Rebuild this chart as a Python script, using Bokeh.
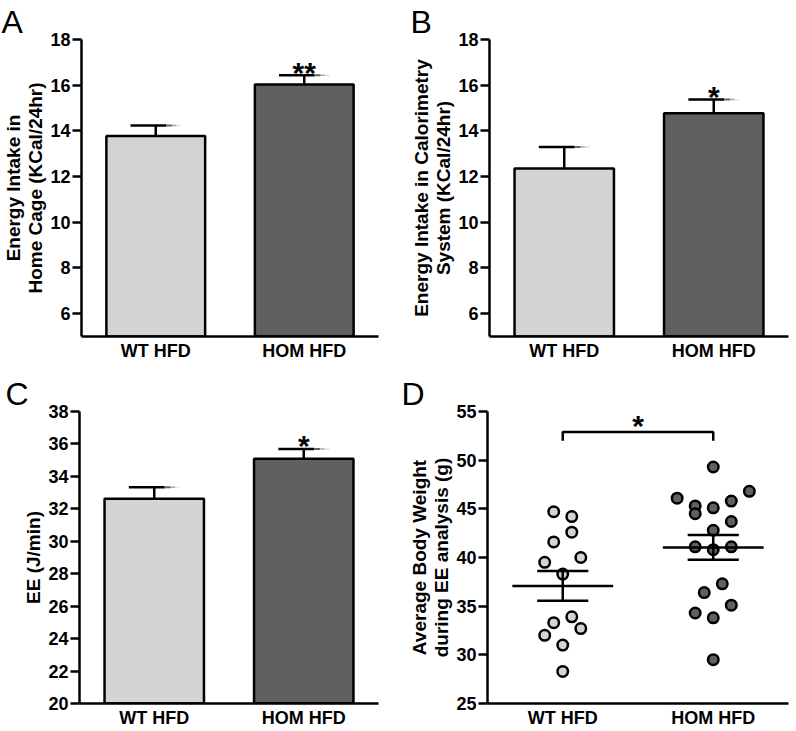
from bokeh.plotting import figure
from bokeh.layouts import row, column
from bokeh.models import Range1d, FixedTicker
from bokeh.embed import file_html
from bokeh.resources import INLINE
from bokeh.core.properties import value

# ---------------- data ----------------
groups = ["WT HFD", "HOM HFD"]
group_pos = [1, 2]

home_cage_mean = [13.78, 16.03]
home_cage_sem = [0.46, 0.40]
home_cage_sig = ["", "**"]

calorimetry_mean = [12.35, 14.77]
calorimetry_sem = [0.95, 0.60]
calorimetry_sig = ["", "*"]

ee_mean = [32.62, 35.08]
ee_sem = [0.71, 0.61]
ee_sig = ["", "*"]

wt_weight = [44.7, 44.2, 42.6, 41.6, 40.0, 39.5, 38.3, 33.9, 33.3, 32.7, 32.0, 31.0, 28.3]
wt_jitter = [-0.06, 0.06, 0.06, -0.06, 0.12, -0.12, 0.0, 0.06, -0.06, 0.12, -0.12, 0.0, 0.0]
hom_weight = [49.3, 46.8, 46.1, 45.8, 45.3, 45.1, 44.5, 43.7, 42.8, 41.1, 40.8, 41.1,
              37.3, 36.4, 35.1, 34.3, 33.8, 29.5]
hom_jitter = [0.0, 0.24, -0.24, 0.12, -0.12, 0.0, -0.12, 0.12, 0.0, -0.12, 0.0, 0.12,
              0.06, -0.06, 0.12, -0.12, 0.0, 0.0]
weight_mean = [37.08, 41.03]
weight_sem = [1.53, 1.27]
weight_sig = "*"
bracket_y = 52.9
bracket_drop = 0.9

yticks_ab = [6, 8, 10, 12, 14, 16, 18]
yticks_c = [20, 22, 24, 26, 28, 30, 32, 34, 36, 38]
yticks_d = [25, 30, 35, 40, 45, 50, 55]

# ---------------- style ----------------
FONT = "Liberation Sans"
LIGHT = "#d4d4d4"
DARK = "#606060"
colors = [LIGHT, DARK]
LW = 2.5


def make_panel(width, height, ymin, ymax, yticks, ylabel, bl, br, bt, bb,
               letter, loff):
    p = figure(width=width, height=height,
               x_range=Range1d(0.5, 2.5), y_range=Range1d(ymin, ymax),
               output_backend="svg", toolbar_location=None,
               min_border_left=bl, min_border_right=br,
               min_border_top=bt, min_border_bottom=bb)
    p.outline_line_color = None
    p.background_fill_color = "white"
    p.border_fill_color = "white"
    p.grid.visible = False

    p.title.text = letter
    p.title.align = "left"
    p.title.offset = loff
    p.title.standoff = 0
    p.title.text_font = FONT
    p.title.text_font_size = "32px"
    p.title.text_font_style = "normal"
    p.title.text_color = "black"

    xa = p.xaxis[0]
    xa.ticker = FixedTicker(ticks=group_pos)
    xa.major_label_overrides = {pos: g for pos, g in zip(group_pos, groups)}
    xa.major_tick_line_color = None
    xa.major_tick_out = 0
    xa.major_tick_in = 0
    xa.minor_tick_line_color = None
    xa.minor_tick_out = 0
    xa.minor_tick_in = 0
    xa.axis_label_standoff = 0
    xa.axis_line_width = LW
    xa.axis_line_color = "black"
    xa.major_label_text_font = FONT
    xa.major_label_text_font_style = "bold"
    xa.major_label_text_font_size = "18px"
    xa.major_label_text_color = "black"
    xa.major_label_standoff = 4

    ya = p.yaxis[0]
    ya.ticker = FixedTicker(ticks=yticks)
    ya.axis_line_width = LW
    ya.axis_line_color = "black"
    ya.major_tick_line_width = LW
    ya.major_tick_line_color = "black"
    ya.major_tick_out = 9
    ya.major_tick_in = 0
    ya.minor_tick_line_color = None
    ya.minor_tick_out = 0
    ya.minor_tick_in = 0
    ya.major_label_standoff = 2
    ya.major_label_text_font = FONT
    ya.major_label_text_font_style = "bold"
    ya.major_label_text_font_size = "18px"
    ya.major_label_text_color = "black"
    ya.axis_label = ylabel
    ya.axis_label_text_font = FONT
    ya.axis_label_text_font_style = "bold"
    ya.axis_label_text_font_size = "19px"
    ya.axis_label_text_color = "black"
    ya.axis_label_standoff = 1
    ya.axis_label_text_line_height = 1.05
    return p


def draw_cap(p, xs, ys):
    parts = [(-0.17, 0.07, "black", 2.5), (0.07, 0.11, "#666666", 2.0),
             (0.11, 0.14, "#aaaaaa", 1.5), (0.14, 0.17, "#dddddd", 1.2)]
    for a, b, c, w in parts:
        p.segment(x0=[x + a for x in xs], y0=ys, x1=[x + b for x in xs], y1=ys,
                  line_color=c, line_width=w)


def bar_panel(p, means, sems, sig):
    tops = [m + s for m, s in zip(means, sems)]
    p.vbar(x=group_pos, top=means, bottom=p.y_range.start, width=0.665,
           fill_color=colors, line_color="black", line_width=LW)
    p.segment(x0=group_pos, y0=means, x1=group_pos, y1=tops,
              line_color="black", line_width=LW)
    draw_cap(p, group_pos, tops)
    p.text(x=group_pos, y=tops, text=sig, text_font=value(FONT),
           text_font_style="bold", text_font_size="30px", text_align="center",
           text_baseline="alphabetic", y_offset=-3, text_color="black")


pA = make_panel(398, 363, 5, 18, yticks_ab,
                "Energy Intake in\nHome Cage (KCal/24hr)",
                78, 20, 39, 24, "A", -80)
bar_panel(pA, home_cage_mean, home_cage_sem, home_cage_sig)

pB = make_panel(398, 363, 5, 18, yticks_ab,
                "Energy Intake in Calorimetry\nSystem (KCal/24hr)",
                91, 8, 36, 24, "B", -79)
bar_panel(pB, calorimetry_mean, calorimetry_sem, calorimetry_sig)

pC = make_panel(398, 367, 20, 38, yticks_c, "EE (J/min)",
                79, 20, 48, 22, "C", -74)
bar_panel(pC, ee_mean, ee_sem, ee_sig)

pD = make_panel(398, 367, 25, 55, yticks_d,
                "Average Body Weight\nduring EE analysis (g)",
                89, 8, 47, 22, "D", -86)
pD.scatter(x=[group_pos[0] + j for j in wt_jitter], y=wt_weight, size=10.5,
           fill_color=LIGHT, line_color="black", line_width=LW)
pD.scatter(x=[group_pos[1] + j for j in hom_jitter], y=hom_weight, size=10.5,
           fill_color=DARK, line_color="black", line_width=LW)
pD.segment(x0=[x - 0.335 for x in group_pos], y0=weight_mean,
           x1=[x + 0.335 for x in group_pos], y1=weight_mean,
           line_color="black", line_width=LW)
lo = [m - s for m, s in zip(weight_mean, weight_sem)]
hi = [m + s for m, s in zip(weight_mean, weight_sem)]
pD.segment(x0=group_pos, y0=lo, x1=group_pos, y1=hi, line_color="black", line_width=LW)
for ys in (lo, hi):
    pD.segment(x0=[x - 0.17 for x in group_pos], y0=ys,
               x1=[x + 0.17 for x in group_pos], y1=ys,
               line_color="black", line_width=LW)
pD.line(x=[group_pos[0], group_pos[0], group_pos[1], group_pos[1]],
        y=[bracket_y - bracket_drop, bracket_y, bracket_y, bracket_y - bracket_drop],
        line_color="black", line_width=LW)
pD.text(x=[(group_pos[0] + group_pos[1]) / 2], y=[bracket_y], text=[weight_sig],
        text_font=value(FONT), text_font_style="bold", text_font_size="30px",
        text_align="center", text_baseline="alphabetic", y_offset=-6,
        text_color="black")

layout = column(row(pA, pB), row(pC, pD))
open("out.html", "w").write(file_html(layout, INLINE))
